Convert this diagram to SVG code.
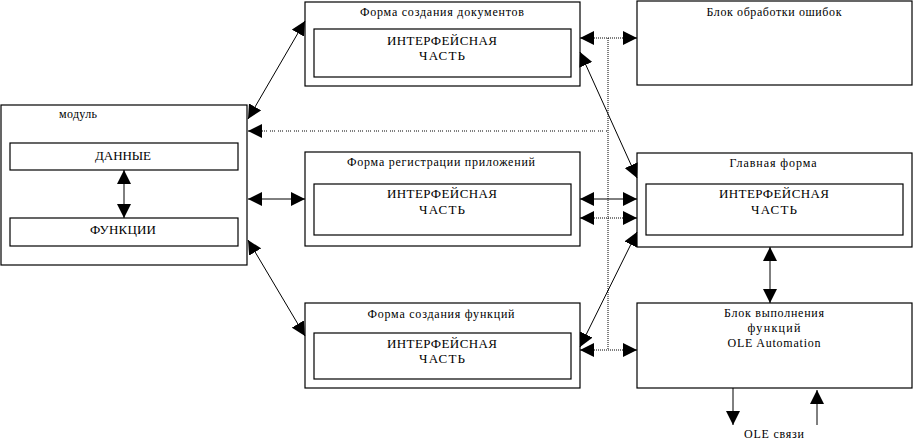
<svg xmlns="http://www.w3.org/2000/svg" width="913" height="445" viewBox="0 0 913 445">
<style>
  .box{fill:#fff;stroke:#000;stroke-width:1.2}
  .t{font-family:'Liberation Serif','DejaVu Serif','Times New Roman',serif;font-size:12px;fill:#000;text-anchor:middle}
  .c{font-family:'Liberation Serif','DejaVu Serif','Times New Roman',serif;font-size:13px;fill:#000;text-anchor:middle}
  .ln{stroke:#000;stroke-width:1;fill:none}
  .dot{stroke:#000;stroke-width:1;fill:none;stroke-dasharray:1 1}
  .dash{stroke:#000;stroke-width:1;fill:none;stroke-dasharray:1 1 1 1 1 3}
  .a2{marker-start:url(#ah);marker-end:url(#ah)}
  .a1{marker-end:url(#ah)}
</style>
<defs>
  <marker id="ah" markerUnits="userSpaceOnUse" markerWidth="15" markerHeight="14" refX="14" refY="7" orient="auto-start-reverse">
    <path d="M0,0 L14,7 L0,14 z" fill="#000"/>
  </marker>
</defs>
<rect width="913" height="445" fill="#fff"/>

<g id="module">
  <rect class="box" x="1" y="105" width="246" height="160"/>
  <text class="t" x="78" y="118" font-size="11" textLength="38" lengthAdjust="spacing">модуль</text>
  <rect class="box" x="10" y="143" width="228" height="27"/>
  <text class="c" x="123" y="160" textLength="56" lengthAdjust="spacing">ДАННЫЕ</text>
  <rect class="box" x="10" y="218" width="228" height="28"/>
  <text class="c" x="123" y="234" textLength="66" lengthAdjust="spacing">ФУНКЦИИ</text>
</g>

<g id="form-docs">
  <rect class="box" x="305" y="2" width="275" height="84"/>
  <text class="t" x="442" y="16" textLength="164" lengthAdjust="spacing">Форма создания документов</text>
  <rect class="box" x="314" y="29" width="257" height="48"/>
  <text class="c" x="442" y="45" textLength="110" lengthAdjust="spacing">ИНТЕРФЕЙСНАЯ</text>
  <text class="c" x="442" y="60" textLength="46" lengthAdjust="spacing">ЧАСТЬ</text>
</g>

<g id="form-reg">
  <rect class="box" x="305" y="152" width="275" height="94"/>
  <text class="t" x="441" y="166" textLength="188" lengthAdjust="spacing">Форма регистрации приложений</text>
  <rect class="box" x="314" y="184" width="257" height="51"/>
  <text class="c" x="442" y="198" textLength="110" lengthAdjust="spacing">ИНТЕРФЕЙСНАЯ</text>
  <text class="c" x="442" y="214" textLength="46" lengthAdjust="spacing">ЧАСТЬ</text>
</g>

<g id="form-func">
  <rect class="box" x="305" y="303" width="275" height="85"/>
  <text class="t" x="441" y="318" textLength="147" lengthAdjust="spacing">Форма создания функций</text>
  <rect class="box" x="314" y="333" width="257" height="46"/>
  <text class="c" x="442" y="348" textLength="110" lengthAdjust="spacing">ИНТЕРФЕЙСНАЯ</text>
  <text class="c" x="442" y="363" textLength="46" lengthAdjust="spacing">ЧАСТЬ</text>
</g>

<g id="error-block">
  <rect class="box" x="637" y="1" width="275" height="84"/>
  <text class="t" x="774" y="16" textLength="135" lengthAdjust="spacing">Блок обработки ошибок</text>
</g>

<g id="main-form">
  <rect class="box" x="637" y="153" width="275" height="94"/>
  <text class="t" x="773" y="167" textLength="87" lengthAdjust="spacing">Главная форма</text>
  <rect class="box" x="646" y="184" width="257" height="51"/>
  <text class="c" x="774" y="198" textLength="110" lengthAdjust="spacing">ИНТЕРФЕЙСНАЯ</text>
  <text class="c" x="774" y="214" textLength="46" lengthAdjust="spacing">ЧАСТЬ</text>
</g>

<g id="exec-block">
  <rect class="box" x="637" y="303" width="275" height="85"/>
  <text class="t" x="774" y="317" textLength="100" lengthAdjust="spacing">Блок выполнения</text>
  <text class="t" x="774" y="332" textLength="53" lengthAdjust="spacing">функций</text>
  <text class="t" x="774" y="347" textLength="93" lengthAdjust="spacing">OLE Automation</text>
</g>

<g id="ole-label">
  <text class="t" x="774" y="438" textLength="60" lengthAdjust="spacing">OLE связи</text>
</g>

<g id="connectors">
  <line class="ln a2" x1="124" y1="170" x2="124" y2="218"/>
  <line class="ln a2" x1="248" y1="119" x2="305" y2="21"/>
  <line class="ln a2" x1="248" y1="199" x2="305" y2="199"/>
  <line class="ln a2" x1="248" y1="240" x2="305" y2="336"/>
  <line class="dash" x1="262" y1="131" x2="608" y2="131"/>
  <line class="ln a1" x1="262" y1="131" x2="248" y2="131"/>
  <line class="dot" x1="608" y1="38" x2="608" y2="350"/>
  <line class="dot" x1="594" y1="38" x2="623" y2="38"/>
  <line class="ln a1" x1="594" y1="38" x2="580" y2="38"/>
  <line class="ln a1" x1="623" y1="38" x2="637" y2="38"/>
  <line class="dot" x1="594" y1="350" x2="623" y2="350"/>
  <line class="ln a1" x1="594" y1="350" x2="580" y2="350"/>
  <line class="ln a1" x1="623" y1="350" x2="637" y2="350"/>
  <line class="dot" x1="594" y1="218" x2="623" y2="218"/>
  <line class="ln a1" x1="594" y1="218" x2="580" y2="218"/>
  <line class="ln a1" x1="623" y1="218" x2="637" y2="218"/>
  <line class="ln a2" x1="580" y1="199" x2="637" y2="199"/>
  <line class="ln a2" x1="580" y1="52" x2="637" y2="178"/>
  <line class="ln a2" x1="637" y1="232" x2="580" y2="347"/>
  <line class="ln a2" x1="770" y1="247" x2="770" y2="303"/>
  <line class="ln a1" x1="733" y1="388" x2="733" y2="425"/>
  <line class="ln a1" x1="817" y1="425" x2="817" y2="390"/>
</g>
</svg>
